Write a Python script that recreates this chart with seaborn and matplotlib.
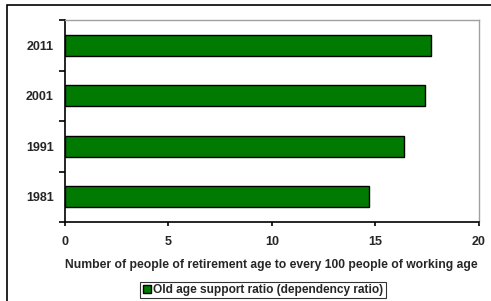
import matplotlib
matplotlib.use("Agg")
import matplotlib.pyplot as plt
import seaborn as sns
import pandas as pd
from matplotlib.patches import Rectangle, Patch

# Data
years = ["1981", "1991", "2001", "2011"]
ratio = [14.7, 16.4, 17.4, 17.7]
x_ticks = [0, 5, 10, 15, 20]
series_label = "Old age support ratio (dependency ratio)"
x_label = "Number of people of retirement age to every 100 people of working age"

df = pd.DataFrame({"year": years, "ratio": ratio})

sns.set_style("white")
plt.rcParams["font.family"] = ["Liberation Sans", "DejaVu Sans"]

fig = plt.figure(figsize=(4.91, 3.01), dpi=100)
ax = fig.add_axes([65 / 491, 1 - 222 / 301, (478.5 - 65) / 491, (222 - 20) / 301])

sns.barplot(data=df, x="ratio", y="year", order=years[::-1], orient="h",
            color="#007a00", saturation=1, width=0.42,
            edgecolor="black", linewidth=1.0, ax=ax)

ax.set_xlim(0, 20)
ax.set_ylim(3.5, -0.5)
ax.set_xticks(x_ticks)
ax.set_xticklabels([str(t) for t in x_ticks], fontsize=9, fontweight="bold")
ax.set_yticks(range(len(years)))
ax.set_yticklabels(years[::-1], fontsize=9, fontweight="bold")
ax.set_yticks([i - 0.5 for i in range(len(years) + 1)], minor=True)
ax.tick_params(which="both", left=True, bottom=True)
ax.tick_params(axis="y", which="major", length=0, pad=8)
ax.tick_params(axis="y", which="minor", length=4.5, width=1.2, color="black", direction="out")
ax.tick_params(axis="x", which="major", length=3, width=1.2, color="black", direction="out", pad=7)
ax.set_ylabel("")
ax.set_xlabel(x_label, fontsize=8.7, fontweight="bold", labelpad=8)

for side in ["left", "bottom"]:
    ax.spines[side].set_color("black")
    ax.spines[side].set_linewidth(1.2)
for side in ["top", "right"]:
    ax.spines[side].set_visible(True)
    ax.spines[side].set_color("#a0a0a0")
    ax.spines[side].set_linewidth(1.0)

leg = fig.legend(handles=[Patch(facecolor="#007a00", edgecolor="black", label=series_label)],
                 loc="center", bbox_to_anchor=(263 / 491, 1 - 290 / 301),
                 fontsize=8.6, frameon=True, fancybox=False, handlelength=0.7,
                 handleheight=0.7, handletextpad=0.2, borderpad=0.2)
leg.get_frame().set_edgecolor("black")
leg.get_frame().set_linewidth(0.8)
for t in leg.get_texts():
    t.set_fontweight("bold")

# outer chart frame (only top and left edges visible in the reference)
fig.patches.append(Rectangle((7 / 491, -0.05), 1.1, 1 - 5 / 301 + 0.05,
                             transform=fig.transFigure, fill=False,
                             edgecolor="black", linewidth=1.2, zorder=0))

fig.savefig("out.png", dpi=100)
